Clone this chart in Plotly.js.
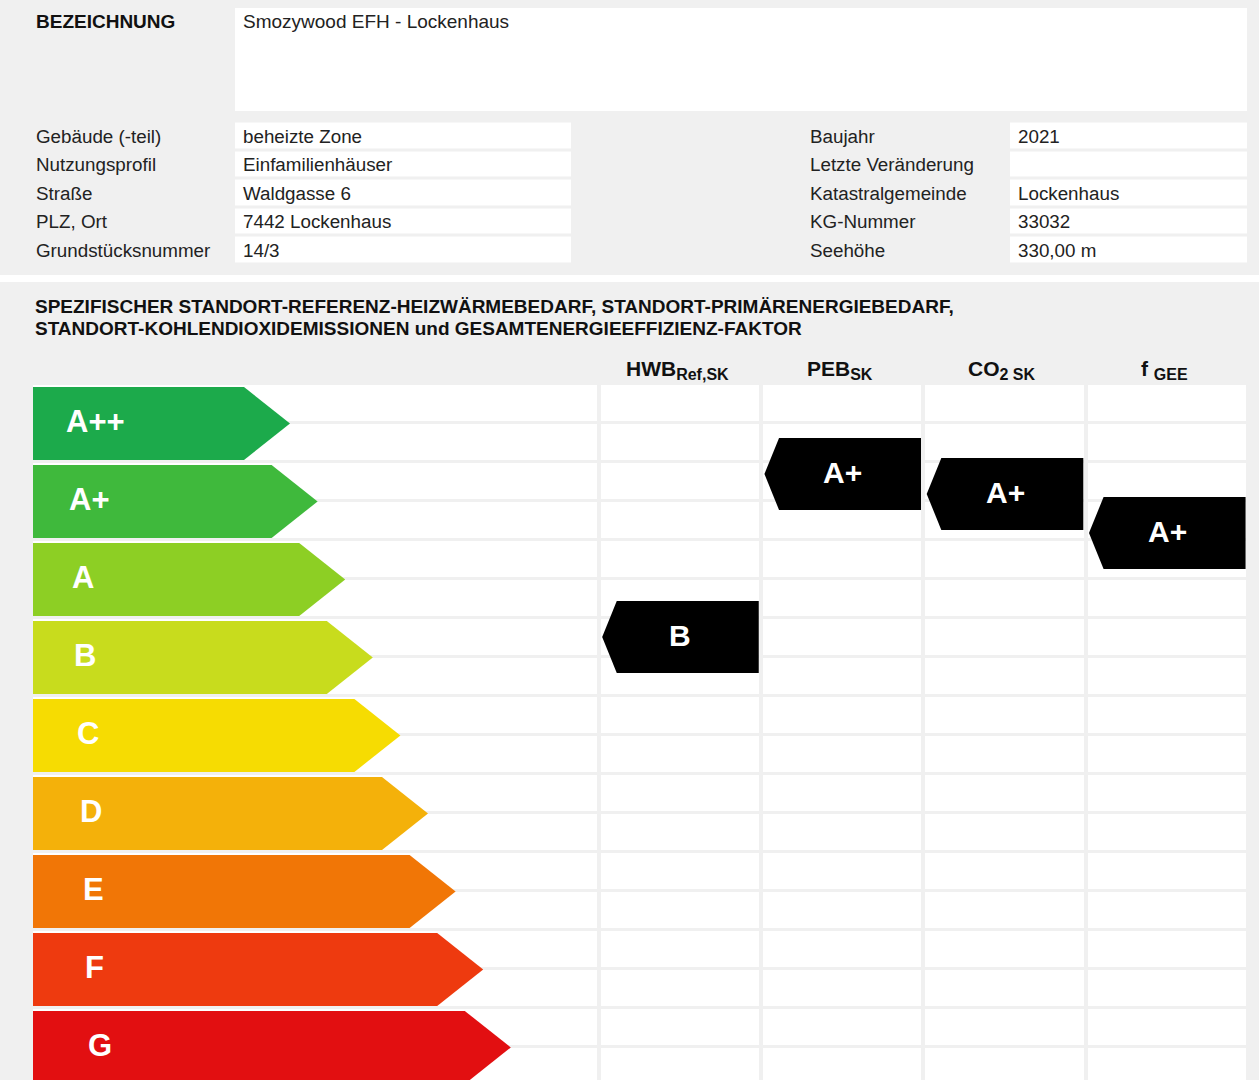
<!DOCTYPE html>
<html><head><meta charset="utf-8">
<script src="https://cdn.plot.ly/plotly-3.0.1.min.js"></script>
<style>html,body{margin:0;padding:0;background:#fff;} #chart{width:1259px;height:1080px;}</style>
</head><body><div id="chart"></div>
<script>
// ---------------- data ----------------
const designationLabel = 'BEZEICHNUNG';
const designationValue = 'Smozywood EFH - Lockenhaus';
const infoLabelsLeft = ['Gebäude (-teil)', 'Nutzungsprofil', 'Straße', 'PLZ, Ort', 'Grundstücksnummer'];
const infoValuesLeft = ['beheizte Zone', 'Einfamilienhäuser', 'Waldgasse 6', '7442 Lockenhaus', '14/3'];
const infoLabelsRight = ['Baujahr', 'Letzte Veränderung', 'Katastralgemeinde', 'KG-Nummer', 'Seehöhe'];
const infoValuesRight = ['2021', '', 'Lockenhaus', '33032', '330,00 m'];
const chartTitleLines = [
  'SPEZIFISCHER STANDORT-REFERENZ-HEIZWÄRMEBEDARF, STANDORT-PRIMÄRENERGIEBEDARF,',
  'STANDORT-KOHLENDIOXIDEMISSIONEN und GESAMTENERGIEEFFIZIENZ-FAKTOR'
];
const classes = ['A++', 'A+', 'A', 'B', 'C', 'D', 'E', 'F', 'G'];
const classColors = ['#1caa4b', '#3fb93c', '#8dcf24', '#c8dc1d', '#f6dc02', '#f4b10a', '#f17606', '#ee3a0f', '#e20f11'];
const indicatorNames = ['HWB', 'PEB', 'CO', 'f '];
const indicatorSubs = ['Ref,SK', 'SK', '2 SK', 'GEE'];
const indicatorClasses = ['B', 'A+', 'A+', 'A+'];
// position of each indicator arrow on the class scale (A++ top = 0, one unit per class)
const indicatorPositions = [3.244, 1.154, 1.410, 1.910];

// ---------------- layout helpers ----------------
const W = 1259, H = 1080;
const FONT = 'Arial, "Liberation Sans", sans-serif';
const PANEL = '#f0f0f0';
const px = x => x / W;
const py = y => 1 - y / H;

const GRID_TOP = 384, ROW_PX = 78, COL_LEFT = 31, COL_RIGHT = 1248;
const X_MIN = -3.5, X_MAX = 4;
const COL_PX = (COL_RIGHT - COL_LEFT) / (X_MAX - X_MIN);
const xu = p => (p - COL_LEFT) / COL_PX + X_MIN;
const yBottom = (H - GRID_TOP) / ROW_PX;

const traces = [];
const annotations = [];

// ---------------- info section (px-based axes x2/y2) ----------------
const INFO_TOP = 121.5, INFO_ROW = 28.5;
const infoYEdges = infoLabelsLeft.map((_, i) => INFO_TOP + i * INFO_ROW).concat([INFO_TOP + infoLabelsLeft.length * INFO_ROW]);
traces.push({
  type: 'heatmap', xaxis: 'x2', yaxis: 'y2',
  x: [235, 571, 1010, 1247], y: infoYEdges,
  z: infoLabelsLeft.map(() => [1, null, 1]),
  xgap: 0, ygap: 3, colorscale: [[0, '#fff'], [1, '#fff']], showscale: false, hoverinfo: 'skip'
});
traces.push({
  type: 'heatmap', xaxis: 'x2', yaxis: 'y2',
  x: [235, 1247], y: [8, 111], z: [[1]],
  colorscale: [[0, '#fff'], [1, '#fff']], showscale: false, hoverinfo: 'skip'
});

const TX = -2; // annotation inner padding compensation
annotations.push({text: '<b>' + designationLabel + '</b>', x: px(36 + TX), y: py(21), xref: 'paper', yref: 'paper',
  xanchor: 'left', yanchor: 'middle', showarrow: false, font: {family: FONT, size: 19, color: '#111'}});
annotations.push({text: designationValue, x: px(243 + TX), y: py(21), xref: 'paper', yref: 'paper',
  xanchor: 'left', yanchor: 'middle', showarrow: false, font: {family: FONT, size: 19, color: '#222'}});

const addInfoCol = (arr, xPos) => arr.forEach((t, i) => {
  if (!t) return;
  annotations.push({text: t, x: px(xPos + TX), y: py(INFO_TOP + (i + 0.5) * INFO_ROW + 0.5), xref: 'paper', yref: 'paper',
    xanchor: 'left', yanchor: 'middle', showarrow: false, font: {family: FONT, size: 18.8, color: '#222'}});
});
addInfoCol(infoLabelsLeft, 36);
addInfoCol(infoValuesLeft, 243);
addInfoCol(infoLabelsRight, 810);
addInfoCol(infoValuesRight, 1018);

// ---------------- chart title ----------------
chartTitleLines.forEach((t, i) => {
  annotations.push({text: '<b>' + t + '</b>', x: px(35 + TX), y: py(306 + i * 22), xref: 'paper', yref: 'paper',
    xanchor: 'left', yanchor: 'middle', showarrow: false, font: {family: FONT, size: 19, color: '#111'}});
});

// ---------------- grid (heatmap cells) ----------------
const nSub = classes.length * 2;
const gridYEdges = Array.from({length: nSub + 1}, (_, i) => i * 0.5);
const gridXEdges = [X_MIN].concat(indicatorNames.map((_, k) => k)).concat([X_MAX]);
traces.push({
  type: 'heatmap', xaxis: 'x', yaxis: 'y',
  x: gridXEdges, y: gridYEdges,
  z: gridYEdges.slice(0, -1).map(() => gridXEdges.slice(0, -1).map(() => 1)),
  xgap: 4, ygap: 3, colorscale: [[0, '#fff'], [1, '#fff']], showscale: false, hoverinfo: 'skip'
});

// ---------------- class arrows ----------------
classes.forEach((c, i) => {
  const top = i + 0.038, bot = i + 0.974, mid = (top + bot) / 2;
  const left = xu(33), tip = xu(290 + 27.6 * i), body = tip - 46 / COL_PX;
  traces.push({
    type: 'scatter', mode: 'lines', xaxis: 'x', yaxis: 'y',
    x: [left, body, tip, body, left, left], y: [top, top, mid, bot, bot, top],
    fill: 'toself', fillcolor: classColors[i], line: {width: 0, color: classColors[i]},
    hoverinfo: 'skip', showlegend: false
  });
  annotations.push({text: '<b>' + c + '</b>', x: xu(64 + 2.75 * i), y: mid - 0.02, xref: 'x', yref: 'y',
    xanchor: 'left', yanchor: 'middle', showarrow: false, font: {family: FONT, size: 31, color: '#fff'}});
});

// ---------------- indicator arrows ----------------
const HALF = 0.4615;
indicatorClasses.forEach((c, k) => {
  const pos = indicatorPositions[k];
  const tip = k + 0.02, bodyL = k + 0.11, right = k + 0.985;
  traces.push({
    type: 'scatter', mode: 'lines', xaxis: 'x', yaxis: 'y',
    x: [tip, bodyL, right, right, bodyL, tip], y: [pos, pos - HALF, pos - HALF, pos + HALF, pos + HALF, pos],
    fill: 'toself', fillcolor: '#000', line: {width: 0, color: '#000'},
    hoverinfo: 'skip', showlegend: false
  });
  annotations.push({text: '<b>' + c + '</b>', x: (tip + right) / 2, y: pos - 0.02, xref: 'x', yref: 'y',
    xanchor: 'center', yanchor: 'middle', showarrow: false, font: {family: FONT, size: 30, color: '#fff'}});
  annotations.push({
    text: '<b>' + indicatorNames[k] + '<sub><span style="font-size:16px">' + indicatorSubs[k] + '</span></sub></b>',
    x: k + 0.485, y: py(370), xref: 'x', yref: 'paper',
    xanchor: 'center', yanchor: 'middle', showarrow: false, font: {family: FONT, size: 21, color: '#111'}});
});

// ---------------- layout ----------------
const layout = {
  width: W, height: H,
  margin: {l: 0, r: 0, t: 0, b: 0, pad: 0},
  paper_bgcolor: '#fff', plot_bgcolor: 'rgba(0,0,0,0)',
  showlegend: false,
  xaxis: {domain: [px(COL_LEFT), px(COL_RIGHT)], range: [X_MIN, X_MAX], visible: false, fixedrange: true},
  yaxis: {domain: [0, (H - GRID_TOP) / H], range: [yBottom, 0], visible: false, fixedrange: true},
  xaxis2: {domain: [0, 1], range: [0, W], visible: false, anchor: 'y2', fixedrange: true},
  yaxis2: {domain: [py(275), 1], range: [275, 0], visible: false, anchor: 'x2', fixedrange: true},
  shapes: [
    {type: 'rect', xref: 'paper', yref: 'paper', x0: 0, x1: 1, y0: py(275), y1: 1, fillcolor: PANEL, line: {width: 0}, layer: 'below'},
    {type: 'rect', xref: 'paper', yref: 'paper', x0: 0, x1: 1, y0: 0, y1: py(282), fillcolor: PANEL, line: {width: 0}, layer: 'below'}
  ],
  annotations: annotations
};

Plotly.newPlot('chart', traces, layout, {displayModeBar: false, staticPlot: true});
</script>
</body></html>
